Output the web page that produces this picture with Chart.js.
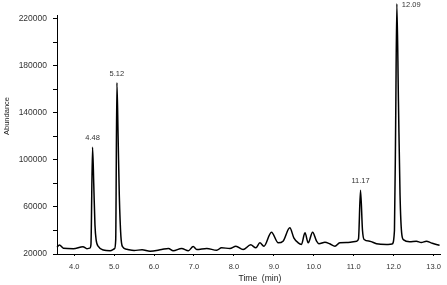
<!DOCTYPE html>
<html>
<head>
<meta charset="utf-8">
<script src="https://cdn.jsdelivr.net/npm/chart.js@4"></script>
<style>
    html, body { margin: 0; padding: 0; background: #fff; }
    #chromChart { display: block; }
</style>
</head>
<body>
<canvas id="chromChart" width="447" height="285"></canvas>
<script>
"use strict";

// retention time (min) and abundance
const times = [
    3.57, 3.63, 3.73, 3.98, 4.22, 4.32, 4.39, 4.42, 4.46, 4.49, 4.52, 4.55, 4.61, 4.73, 4.90,
    5.01, 5.04, 5.07, 5.10, 5.13, 5.17, 5.21, 5.32, 5.50, 5.70, 5.90, 6.19, 6.36, 6.48, 6.69,
    6.86, 6.98, 7.07, 7.32, 7.57, 7.69, 7.90, 8.05, 8.23, 8.42, 8.55, 8.65, 8.75, 8.94,
    9.11, 9.23, 9.40, 9.50, 9.61, 9.69, 9.78, 9.86, 9.97, 10.07, 10.13, 10.28, 10.40,
    10.53, 10.65, 10.86, 11.07, 11.12, 11.17, 11.22, 11.26, 11.40, 11.57, 11.82, 11.96,
    12.02, 12.05, 12.08, 12.12, 12.16, 12.20, 12.25, 12.40, 12.57, 12.69, 12.82, 12.94, 13.07, 13.15
];
const abundance = [
    25700, 27700, 24900, 24500, 26200, 24500, 25000, 28000, 110800, 80000, 45000, 32000, 26200, 23400, 22800,
    24500, 32000, 165800, 120000, 70000, 35000, 26200, 24000, 23000, 23600, 22400, 23800, 24700, 22700, 24700,
    22700, 26400, 23800, 24700, 23200, 25300, 24700, 26600, 23800, 27800, 25300, 29500, 26600, 38600,
    29500, 30900, 42300, 33800, 29500, 28100, 38000, 29500, 38600, 30900, 28700, 30000, 28700,
    26600, 29500, 29800, 30900, 33000, 74300, 40000, 32300, 30900, 28700, 28100, 28500,
    40000, 130000, 233000, 150000, 70000, 38000, 32000, 30400, 30900, 29800, 30900, 29500, 28100, 27500
];

const peakLabels = ["4.48", "5.12", "11.17", "12.09"];
const peakTimes = [4.46, 5.07, 11.17, 12.08];

const xTickValues = [4, 5, 6, 7, 8, 9, 10, 11, 12, 13];
const yTickValues = [20000, 40000, 60000, 80000, 100000, 120000, 140000, 160000, 180000, 200000, 220000];
const yLabelValues = [20000, 60000, 100000, 140000, 180000, 220000];

const FONT = "'Liberation Sans', Arial, sans-serif";
const TEXT_COLOR = "#333";

const axisTitles = {
    id: "axisTitles",
    afterDraw(chart) {
        const ctx = chart.ctx;
        const area = chart.chartArea;
        ctx.save();
        ctx.fillStyle = "#222";
        ctx.textAlign = "center";
        ctx.textBaseline = "middle";
        ctx.font = `8.5px ${FONT}`;
        ctx.fillText("Time  (min)", (area.left + area.right) / 2 + 11, 279);

        ctx.translate(7, 116);
        ctx.rotate(-Math.PI / 2);
        ctx.font = `7.5px ${FONT}`;
        ctx.fillText("Abundance", 0, 0);
        ctx.restore();
    }
};

const peakTags = {
    id: "peakTags",
    afterDatasetsDraw(chart) {
        const ctx = chart.ctx;
        const xScale = chart.scales.x;
        const yScale = chart.scales.y;
        ctx.save();
        ctx.fillStyle = TEXT_COLOR;
        ctx.font = `7.5px ${FONT}`;
        ctx.textBaseline = "middle";

        peakTimes.forEach((t, i) => {
            const idx = times.indexOf(t);
            const px = xScale.getPixelForValue(t);
            const py = yScale.getPixelForValue(abundance[idx]);

            if (py - 9 < 6) {
                ctx.textAlign = "left";
                ctx.fillText(peakLabels[i], px + 5, 5);
            } else {
                ctx.textAlign = "center";
                ctx.fillText(peakLabels[i], px, py - 9);
            }
        });
        ctx.restore();
    }
};

new Chart(document.getElementById("chromChart"), {
    type: "line",
    data: {
        datasets: [
            {
                data: times.map((t, i) => ({ x: t, y: abundance[i] })),
                borderColor: "#000",
                borderWidth: 1.5,
                pointRadius: 0,
                fill: false,
                cubicInterpolationMode: "monotone",
                clip: false
            }
        ]
    },
    options: {
        responsive: false,
        animation: false,
        layout: {
            padding: { left: 0, right: 6, top: 15, bottom: 0 }
        },
        plugins: {
            legend: { display: false },
            tooltip: { enabled: false }
        },
        scales: {
            x: {
                type: "linear",
                min: 3.57,
                max: 13.18,
                grid: {
                    display: true,
                    drawOnChartArea: false,
                    drawTicks: true,
                    tickLength: 2,
                    color: "#000"
                },
                border: { display: true, color: "#000", width: 1 },
                afterBuildTicks: scale => {
                    scale.ticks = xTickValues.map(v => ({ value: v }));
                },
                afterFit: scale => {
                    scale.height = 31;
                },
                ticks: {
                    autoSkip: false,
                    maxRotation: 0,
                    padding: 6,
                    color: TEXT_COLOR,
                    font: { family: FONT, size: 7.5 },
                    callback: value => Number(value).toFixed(1)
                }
            },
            y: {
                type: "linear",
                min: 20000,
                max: 223400,
                grid: {
                    display: true,
                    drawOnChartArea: false,
                    drawTicks: true,
                    tickLength: 4,
                    color: "#000"
                },
                border: { display: true, color: "#000", width: 1 },
                afterBuildTicks: scale => {
                    scale.ticks = yTickValues.map(v => ({ value: v }));
                },
                afterFit: scale => {
                    scale.width = 57;
                },
                ticks: {
                    autoSkip: false,
                    padding: 6,
                    color: TEXT_COLOR,
                    font: { family: FONT, size: 8.5 },
                    callback: value => (yLabelValues.includes(value) ? String(value) : "")
                }
            }
        }
    },
    plugins: [axisTitles, peakTags]
});
</script>
</body>
</html>
